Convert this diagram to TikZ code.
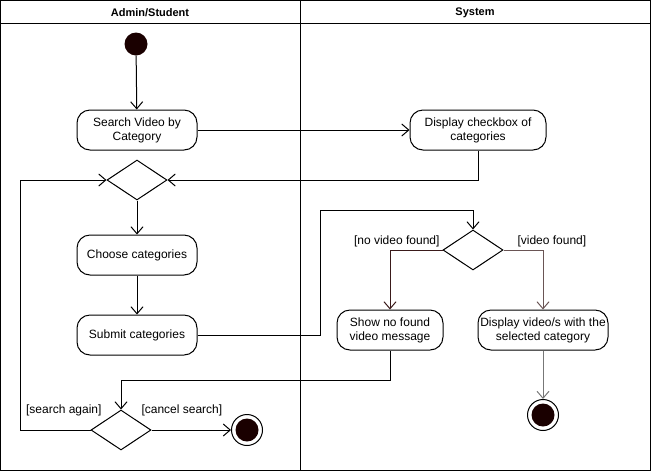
\documentclass[tikz,border=0pt]{standalone}
\usepackage{fontspec}
\setmainfont{Liberation Sans}
\usetikzlibrary{arrows.meta,shapes.geometric}
\definecolor{dotfill}{HTML}{1A0000}
\definecolor{brownline}{HTML}{3A1A1A}
\definecolor{mauveline}{HTML}{6A5555}
\definecolor{greyline}{HTML}{777777}
\begin{document}
\begin{tikzpicture}[x=1pt,y=-1pt,
  every node/.style={font=\fontsize{12}{14}\selectfont},
  action/.style={draw, line width=1pt, rounded corners=13pt, align=center, inner sep=0pt,
    minimum width=120pt, minimum height=40pt},
  decision/.style={draw, line width=1pt, diamond, inner sep=0pt, minimum width=60pt, minimum height=40pt},
  initial/.style={circle, fill=dotfill, inner sep=0pt, minimum size=23pt},
  final/.style={circle, draw, line width=1pt, fill=white, inner sep=0pt, minimum size=31pt,
    path picture={\fill[dotfill] (path picture bounding box.center) circle (11.5pt);}},
  flow/.style={-{Straight Barb[length=7pt,width=12pt]}, line width=1pt},
  guard/.style={font=\fontsize{12}{14}\selectfont},
  lanehead/.style={font=\fontsize{11}{13}\selectfont\bfseries}
]
\useasboundingbox (0,0) rectangle (652,472);

% swimlanes
\draw[line width=1.1pt] (0.5,0.5) rectangle (650.5,470.5);
\draw[line width=1.1pt] (0.5,23.5) -- (650.5,23.5);
\draw[line width=1.1pt] (300.5,0.5) -- (300.5,470.5);
\node[lanehead] (laneA) at (150,13) {Admin/Student};
\node[lanehead] (laneB) at (475,13) {System};

% activity nodes
\node[initial] (start) at (136,44) {};
\node[action] (search) at (137,130) {Search Video by\\Category};
\node[action, minimum width=136pt] (checkbox) at (478,130) {Display checkbox of\\categories};
\node[decision] (d1) at (137,180) {};
\node[action] (choose) at (137,255) {Choose categories};
\node[action] (submit) at (137,335) {Submit categories};
\node[decision] (d2) at (473,250) {};
\node[action, minimum width=106pt] (nofound) at (390,330) {Show no found\\video message};
\node[action, minimum width=130pt] (showvid) at (543,330) {Display video/s with the\\selected category};
\node[final] (end2) at (543,415) {};
\node[decision] (d3) at (121,430) {};
\node[final] (end1) at (247,430) {};

% guards
\node[guard, anchor=east] (gno) at (443,241) {[no video found]};
\node[guard, anchor=west] (gyes) at (514,241) {[video found]};
\node[guard, anchor=east] (gagain) at (105,410) {[search again]};
\node[guard, anchor=west] (gcancel) at (138,410) {[cancel search]};

% bend points
\coordinate (j1) at (320,210);
\coordinate (j2) at (121,380);
\coordinate (j3) at (20,180);

% control flow
\draw[flow] (start) -- (search);
\draw[flow] (search) -- (checkbox);
\draw[flow] (checkbox.south) |- (d1.east);
\draw[flow] (d1) -- (choose);
\draw[flow] (choose) -- (submit);
\draw[flow] (submit.east) -| (j1) -| (d2.north);
\draw[flow, brownline] (d2.west) -| (nofound.north);
\draw[flow, mauveline] (d2.east) -| (showvid.north);
\draw[flow, greyline] (showvid) -- (end2);
\draw[flow] (nofound.south) |- (j2) -- (d3.north);
\draw[flow] (d3.west) -| (j3) -- (d1.west);
\draw[flow] (d3.east) -- (end1.west);
\end{tikzpicture}
\end{document}
